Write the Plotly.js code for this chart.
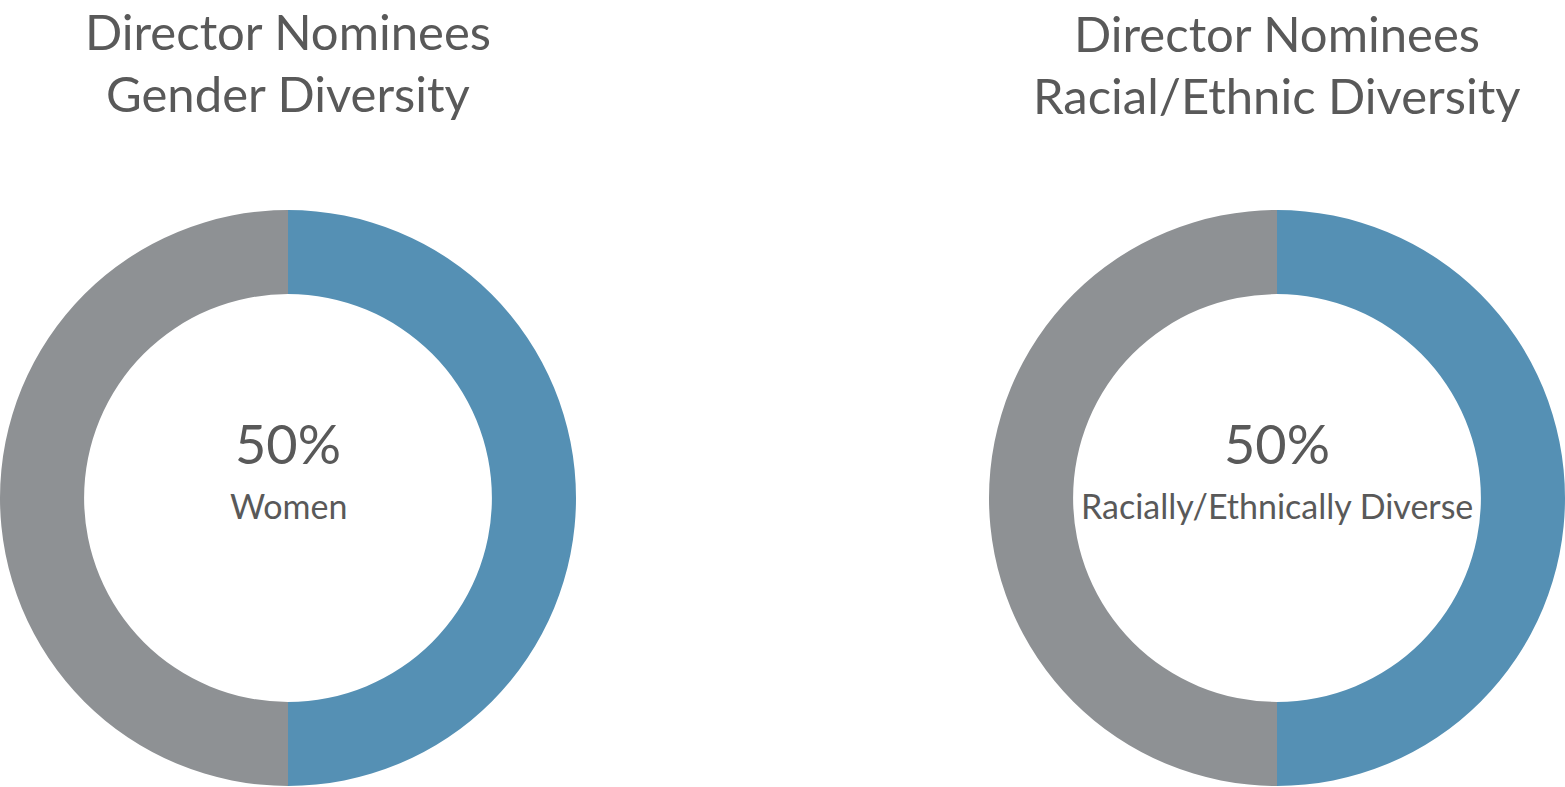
<!DOCTYPE html>
<html>
<head>
<meta charset="utf-8">
<script src="https://cdn.plot.ly/plotly-3.0.1.min.js"></script>
<style>
  html, body { margin: 0; padding: 0; background: #ffffff; }
  #chart { width: 1565px; height: 787px; }
</style>
</head>
<body>
<div id="chart"></div>
<script>
// Director nominee diversity split, one donut per measure
const segments = ['Diverse', 'Other'];
const genderValues = [50, 50];
const racialValues = [50, 50];

const titleLine1 = 'Director Nominees';
const genderTitle = 'Gender Diversity';
const racialTitle = 'Racial/Ethnic Diversity';
const genderLabel = 'Women';
const racialLabel = 'Racially/Ethnically Diverse';

const BLUE = '#5590b4';
const GREY = '#8e9194';
const TEXT = '#595959';
const FONT = 'Lato, "Open Sans", sans-serif';

const W = 1565, H = 787;
const px = x => x / W;
const py = y => 1 - y / H;

function donut(values, x0, x1) {
  return {
    type: 'pie',
    labels: segments,
    values: values,
    hole: 0.708,
    sort: false,
    direction: 'clockwise',
    rotation: 0,
    textinfo: 'none',
    hoverinfo: 'label+percent',
    marker: { colors: [BLUE, GREY], line: { width: 0 } },
    domain: { x: [px(x0), px(x1)], y: [py(786), py(210)] },
    showlegend: false
  };
}

function centreText(text, x, y, size) {
  return {
    text: text, x: px(x), y: py(y), xref: 'paper', yref: 'paper',
    xanchor: 'center', yanchor: 'middle', showarrow: false,
    borderpad: 0,
    font: { family: FONT, size: size, color: TEXT }
  };
}

const pct = v => Math.round(v[0] / (v[0] + v[1]) * 100) + '%';

const data = [donut(genderValues, 0, 576), donut(racialValues, 989, 1565)];

const layout = {
  width: W, height: H,
  margin: { l: 0, r: 0, t: 0, b: 0 },
  paper_bgcolor: '#ffffff',
  plot_bgcolor: '#ffffff',
  annotations: [
    centreText(titleLine1, 288, 31, 49),
    centreText(genderTitle, 288, 93, 49),
    centreText(titleLine1, 1277, 33, 49),
    centreText(racialTitle, 1277, 95, 49),
    centreText(pct(genderValues), 288, 443, 54),
    centreText(genderLabel, 288, 505, 34),
    centreText(pct(racialValues), 1277, 443, 54),
    centreText(racialLabel, 1277, 505, 34)
  ]
};

Plotly.newPlot('chart', data, layout, { displayModeBar: false, staticPlot: true });
</script>
</body>
</html>
